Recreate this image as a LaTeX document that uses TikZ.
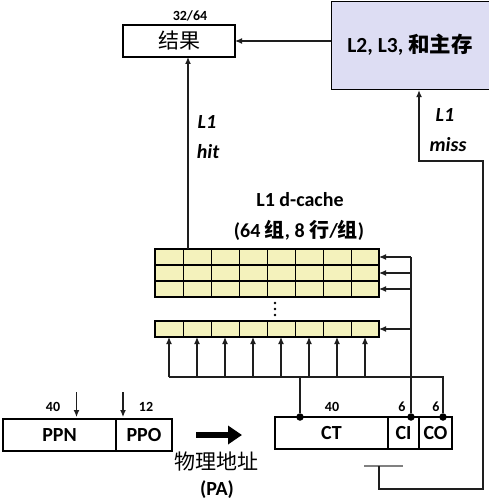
\documentclass[tikz,border=0pt]{standalone}
\usepackage{fontspec}
\setmainfont{Carlito}
\newfontfamily\cjk{Noto Sans CJK SC}
\usetikzlibrary{arrows.meta}
\definecolor{memfill}{RGB}{221,221,243}
\definecolor{cachefill}{RGB}{244,242,188}
\definecolor{wirecol}{RGB}{30,30,30}

\begin{document}
\begin{tikzpicture}[x=1pt,y=-1pt,
  box/.style={draw,line width=1.2pt,inner sep=0pt,outer sep=0pt,minimum height=32,font=\fontsize{20}{23}\selectfont\bfseries},
  row/.style={draw,line width=1.2pt,fill=cachefill,inner sep=0pt,outer sep=0pt,minimum width=224,minimum height=16,anchor=north west},
  lbl/.style={font=\fontsize{20}{23}\selectfont\bfseries},
  lbli/.style={font=\fontsize{20}{23}\selectfont\bfseries\itshape},
  num/.style={font=\fontsize{14}{16}\selectfont\bfseries},
  link/.style={draw=wirecol,line width=1.2pt},
  arr/.style={draw=wirecol,line width=1.2pt,-{Latex[length=7pt,width=6pt]}},
  dot/.style={circle,fill,inner sep=0pt,minimum size=7.5pt}]
  \useasboundingbox (0,0) rectangle (489,503);

  % result and memory
  \node[box,minimum width=112,anchor=north west] (res) at (123,25) {\cjk\mdseries\fontsize{21}{23}\selectfont 结果};
  \node[num] (resw) at (190,16) {32/64};
  \node[draw,line width=1.2pt,fill=memfill,minimum width=162,minimum height=88,anchor=north west] (mem) at (331,1) {};
  \node[lbl,font=\fontsize{21.5}{24}\selectfont\bfseries] (memtxt) at (410,45) {L2, L3, {\cjk 和主存}};
  \draw[arr] (mem.west |- res.east) -- (res.east);

  % cache sets
  \foreach \n/\y in {1/249,2/265,3/281,4/321}{
    \node[row] (r\n) at (155,\y) {};
    \foreach \k in {1,...,7}
      \draw[line width=0.8pt] ([xshift=28*\k]r\n.north west) -- ([xshift=28*\k]r\n.south west);
  }
  \foreach \y in {303,309,315}
    \fill (275,\y) circle (1.4);
  \node[lbl] (cachename) at (300,200) {L1 d-cache};
  \node[lbl] (cachesets) at (299,230) {(64 {\cjk 组}, 8 {\cjk 行}/{\cjk 组})};

  % hit
  \draw[arr] ([xshift=33]r1.north west) -- ([xshift=33]r1.north west |- res.south);
  \node[lbli] (hitA) at (207,122) {L1};
  \node[lbli] (hitB) at (208,152) {hit};

  % address fields
  \node[box,minimum width=113,anchor=north west] (ct) at (275,417) {CT};
  \node[box,minimum width=31,anchor=west] (ci) at (ct.east) {CI};
  \node[box,minimum width=33,anchor=west] (co) at (ci.east) {CO};
  \node[dot] (ctdot) at ([xshift=25]ct.north west) {};
  \node[dot] (cidot) at ([xshift=23]ci.north west) {};
  \node[dot] (codot) at ([xshift=24]co.north west) {};
  \node[num] (ctw) at (332,407) {40};
  \node[num] (ciw) at (402,407) {6};
  \node[num] (cow) at (436,407) {6};

  \draw[link] (ctdot) -- (300,377);
  \draw[link] (169,377) -- (443,377) -- (codot);
  \foreach \k in {0,...,7}
    \draw[arr] ({169+28*\k},377) -- ({169+28*\k},337);
  \draw[link] (cidot) -- (cidot |- r1.east);
  \foreach \n in {1,...,4}
    \draw[arr] (cidot |- r\n.east) -- (r\n.east);

  % miss
  \draw[line width=1.4pt,gray] (364,466) -- (403,466);
  \coordinate (tee) at (379,466);
  \coordinate (missup) at (419,161);
  \draw[arr] (tee) -- (379,489) -- (483,489) -- (483,161) -- (missup) -- (missup |- mem.south);
  \node[lbli] (missA) at (445,115) {L1};
  \node[lbli] (missB) at (448,145) {miss};

  % physical address
  \node[box,minimum width=113,anchor=north west] (ppn) at (3,419) {PPN};
  \node[box,minimum width=56,anchor=west] (ppo) at (ppn.east) {PPO};
  \draw[arr] (ppn.north) ++(17,-27) -- ++(0,25);
  \draw[arr] (ppo.north west) ++(7,-27) -- ++(0,25);
  \node[num] (ppnw) at (53,407) {40};
  \node[num] (ppow) at (146,407) {12};
  \draw[line width=5.5pt,-{Triangle[length=14pt,width=18pt]}] (196,435) -- (242,435);
  \node[font=\cjk\fontsize{21}{23}\selectfont] (pa1) at (216,462) {物理地址};
  \node[lbl] (pa2) at (217,490) {(PA)};
\end{tikzpicture}
\end{document}
